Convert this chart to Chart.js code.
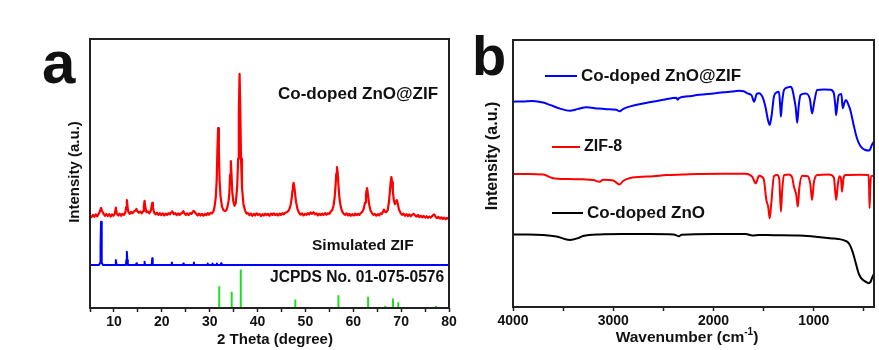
<!DOCTYPE html>
<html>
<head>
<meta charset="utf-8">
<script src="https://cdn.jsdelivr.net/npm/chart.js@4.4.1/dist/chart.umd.min.js"></script>
<style>
  html, body { margin: 0; padding: 0; background: #fff; }
  #wrap { position: relative; width: 879px; height: 350px; overflow: hidden; }
  #xrdBox { position: absolute; left: 0; top: 0; width: 460px; height: 350px; }
  #ftirBox { position: absolute; left: 460px; top: 0; width: 419px; height: 350px; }
</style>
</head>
<body>
<div id="wrap">
  <div id="xrdBox"><canvas id="xrdChart"></canvas></div>
  <div id="ftirBox"><canvas id="ftirChart"></canvas></div>
</div>
<script>
// --- panel a: XRD ---
const xrdTickLabels = [10, 20, 30, 40, 50, 60, 70, 80];

// Co-doped ZnO@ZIF pattern (2 theta, intensity a.u.)
const xrdTheta = [
  5.0,5.3,5.6,5.9,6.2,6.5,6.8,7.05,7.3,7.55,
  7.8,8.1,8.4,8.7,9.0,9.3,9.6,9.9,10.2,10.4,
  10.6,10.9,11.2,11.5,11.8,12.1,12.4,12.55,12.7,12.85,
  13.0,13.3,13.6,13.9,14.2,14.5,14.7,14.9,15.2,15.5,
  15.8,16.1,16.25,16.4,16.55,16.8,17.1,17.4,17.7,17.85,
  18.0,18.15,18.4,18.7,19.0,19.3,19.6,19.9,20.2,20.5,
  20.8,21.1,21.4,21.7,22.0,22.2,22.5,22.8,23.1,23.4,
  23.7,24.0,24.3,24.5,24.7,25.0,25.3,25.6,25.9,26.2,
  26.5,26.7,26.9,27.2,27.5,27.8,28.1,28.4,28.7,29.0,
  29.3,29.6,29.9,30.2,30.5,30.8,31.0,31.27,31.47,31.62,
  31.77,31.92,32.07,32.27,32.57,32.9,33.2,33.5,33.72,33.97,
  34.12,34.27,34.42,34.57,34.72,34.92,35.2,35.45,35.75,35.95,
  36.1,36.25,36.4,36.55,36.75,37.05,37.4,37.7,38.0,38.3,
  38.6,38.9,39.2,39.5,39.8,40.1,40.4,40.7,41.0,41.3,
  41.6,41.9,42.2,42.5,42.8,43.1,43.4,43.7,44.0,44.3,
  44.6,44.9,45.2,45.5,45.8,46.1,46.4,46.7,46.94,47.14,
  47.29,47.39,47.54,47.69,47.84,48.04,48.34,48.7,49.0,49.3,
  49.6,49.9,50.2,50.5,50.8,51.1,51.4,51.7,52.0,52.3,
  52.6,52.9,53.2,53.5,53.8,54.1,54.4,54.7,55.0,55.3,
  55.6,55.9,56.1,56.3,56.45,56.6,56.75,56.9,57.1,57.4,
  57.7,58.0,58.3,58.6,58.9,59.2,59.5,59.8,60.1,60.4,
  60.7,61.0,61.3,61.6,61.9,62.2,62.46,62.66,62.76,62.86,
  62.96,63.11,63.31,63.6,63.9,64.2,64.5,64.8,65.1,65.4,
  65.7,66.0,66.2,66.4,66.6,66.9,67.2,67.46,67.66,67.81,
  67.96,68.11,68.26,68.46,68.7,68.9,69.1,69.3,69.55,69.9,
  70.2,70.5,70.8,71.1,71.4,71.7,72.0,72.3,72.6,72.9,
  73.2,73.5,73.8,74.1,74.4,74.7,75.0,75.3,75.6,75.9,
  76.2,76.6,76.9,77.2,77.5,77.8,78.1,78.4,78.7,79.0,
  79.3,79.6,80.0
];
const xrdCounts = [
  34.2,33.8,34.6,33.9,34.8,34.1,35.0,35.8,37.2,36.0,
  35.1,34.3,35.0,34.2,34.9,34.0,34.8,34.3,35.2,37.3,
  35.0,34.4,35.1,34.3,35.0,34.6,35.6,37.5,40.1,37.6,
  35.8,35.0,35.7,35.2,35.9,36.2,36.8,36.0,35.4,35.9,
  35.2,36.0,37.8,39.8,37.6,35.6,35.9,35.2,36.1,37.6,
  39.1,37.2,35.5,34.8,35.4,34.6,35.3,34.5,35.2,34.4,
  35.1,34.6,35.3,34.8,35.6,35.9,34.9,35.3,34.5,35.2,
  34.6,35.1,35.4,36.0,35.3,34.6,35.2,34.5,35.3,35.0,
  35.8,36.1,35.6,35.0,34.4,35.1,34.4,35.0,34.3,35.0,
  34.5,35.3,34.7,35.4,35.2,36.0,37.4,41.0,47.5,58.8,
  66.9,58.8,47.5,41.5,37.8,36.3,36.0,36.4,37.6,40.0,
  43.0,49.6,54.6,49.6,43.2,39.8,38.0,39.0,45.0,55.5,
  73.9,87.0,73.9,55.5,45.0,38.7,36.2,35.1,35.3,34.5,
  35.1,34.3,35.0,34.4,35.2,34.6,35.0,34.2,34.9,34.4,
  35.1,34.5,35.0,34.3,35.1,34.6,35.2,34.5,35.0,34.4,
  35.1,34.6,35.3,34.8,35.4,35.6,36.0,37.0,38.5,40.8,
  43.6,45.5,46.5,45.0,42.5,39.5,36.8,35.3,34.7,35.2,
  34.4,35.0,34.6,35.3,34.8,35.5,35.0,35.6,34.8,35.2,
  34.4,35.0,34.5,35.1,34.6,35.3,34.7,35.2,35.0,35.8,
  36.4,38.2,40.9,45.5,50.0,52.4,50.2,45.8,41.0,37.6,
  35.8,35.0,34.6,35.2,34.4,35.0,34.3,34.9,34.4,35.1,
  34.5,35.0,34.6,35.4,35.8,37.0,39.2,42.0,43.6,44.6,
  43.8,41.5,38.6,36.3,35.3,34.6,35.0,34.3,34.9,34.4,
  35.2,35.0,35.8,36.6,35.9,35.6,36.4,39.5,43.5,46.8,
  48.7,46.9,43.6,40.2,38.6,39.5,40.1,38.8,36.6,35.3,
  34.6,35.1,34.3,34.9,34.2,34.8,34.1,34.7,35.0,34.4,
  34.0,34.6,33.8,34.3,33.7,34.2,33.6,34.1,33.5,34.0,
  33.6,34.4,34.8,33.9,33.4,33.9,33.2,33.7,33.1,33.6,
  33.0,33.5,33.0
];

// simulated ZIF pattern
const simTheta = [
  5.0, 6.9, 7.1, 7.2, 7.3, 7.4, 7.5, 7.7,
  10.25, 10.4, 10.55,
  12.5, 12.6, 12.7, 12.8, 12.9,
  14.6, 14.7, 14.8,  16.3, 16.4, 16.5,  17.9, 18.0, 18.1,
  22.0, 22.1, 22.2,  24.4, 24.5, 24.6,  26.6, 26.7, 26.8,
  29.5, 29.6, 29.7,  30.5, 30.6, 30.7,  31.4, 31.5, 31.6,
  32.3, 32.4, 32.5,
  80.0
];
const simCounts = [
  16.0, 16.0, 16.8, 23.0, 32.1, 22.5, 16.8, 16.0,
  16.0, 17.8, 16.0,
  16.0, 17.8, 20.9, 17.8, 16.0,
  16.0, 16.6, 16.0,  16.0, 17.2, 16.0,  16.0, 18.5, 16.0,
  16.0, 16.9, 16.0,  16.0, 16.5, 16.0,  16.0, 16.9, 16.0,
  16.0, 16.5, 16.0,  16.0, 16.5, 16.0,  16.0, 16.5, 16.0,
  16.0, 16.6, 16.0,
  16.0
];

// JCPDS 01-075-0576 reference lines
const stickTheta = [32.0, 34.6, 36.5, 47.9, 56.9, 63.1, 66.7, 68.3, 69.4, 72.9, 77.3];
const stickHeight = [8.1, 6.0, 14.3, 3.2, 4.7, 4.2, 0.8, 3.5, 2.1, 0.3, 0.7];

// --- panel b: FTIR ---
const ftirTickValues = [4000, 3500, 3000, 2500, 2000, 1500, 1000, 500];
const ftirTickLabels = [4000, 3000, 2000, 1000];

const compWave = [
  4000,3900,3801,3700,3632,3530,3434,3350,3268,3150,
  3069,2970,2937,2900,2805,2700,2639,2500,2408,2370,
  2358,2345,2250,2142,2000,1900,1815,1745,1700,1663,
  1620,1596,1570,1547,1510,1480,1460,1440,1420,1398,
  1370,1348,1335,1328,1318,1298,1265,1232,1215,1199,
  1180,1166,1150,1133,1083,1040,1017,995,967,900,
  834,801,785,778,765,752,725,712,695,679,
  660,636,603,570,536,487,447,421,400
];
const compAbs = [
  76.9,77.0,77.2,76.6,75.7,74.3,73.5,74.2,74.8,74.3,
  74.1,73.9,73.3,74.2,75.4,76.2,76.7,77.6,78.3,78.4,
  77.6,78.2,78.9,79.5,80.0,80.4,80.7,81.0,80.8,80.0,
  79.2,76.9,79.8,80.1,78.5,74.5,70.5,68.2,72.0,78.8,
  80.4,80.6,75.0,71.3,76.0,81.2,82.2,82.5,81.6,78.8,
  74.5,69.0,75.5,79.4,80.0,78.0,72.5,77.0,81.3,81.5,
  81.4,80.2,75.0,71.9,76.0,79.3,79.8,74.4,76.5,77.5,
  76.2,73.8,68.2,63.2,60.3,58.8,58.6,60.7,62.0
];

const zifWave = [
  4000,3850,3700,3600,3450,3300,3200,3136,3100,3000,
  2937,2900,2808,2600,2473,2300,2142,1900,1679,1613,
  1579,1547,1500,1474,1455,1440,1425,1398,1365,1345,
  1328,1315,1298,1249,1215,1199,1175,1159,1145,1116,
  1060,1035,1017,1000,967,850,800,778,760,745,
  730,719,705,686,550,454,449,444,438,427,
  400
];
const zifAbs = [
  49.8,49.8,49.6,48.2,47.9,47.8,47.6,46.9,47.7,47.4,
  45.9,47.3,48.5,49.0,49.4,49.6,49.8,49.9,49.9,48.7,
  46.3,49.2,48.0,40.1,37.5,33.2,38.5,49.0,49.4,48.0,
  35.7,44.0,49.4,49.6,48.4,45.1,42.0,37.6,44.5,49.2,
  49.0,46.0,40.1,46.5,49.4,49.6,48.5,40.1,46.0,49.0,
  48.4,43.2,48.0,49.4,49.5,49.4,45.0,37.0,44.0,49.0,
  49.2
];

const znoWave = [
  4000,3850,3699,3566,3434,3350,3302,3136,2900,2639,
  2400,2341,2320,2000,1679,1613,1547,1400,1149,983,
  818,760,685,650,619,600,586,570,553,530,
  503,470,454,435,421,400
];
const znoAbs = [
  27.2,27.2,27.0,26.4,25.1,25.8,26.6,27.2,27.3,27.3,
  27.2,26.5,27.1,27.3,27.3,26.8,27.0,26.9,26.8,26.3,
  25.7,25.5,24.8,23.8,21.3,19.0,17.0,14.8,12.6,10.9,
  9.9,9.2,8.9,9.4,10.7,12.5
];

const FONT = '"Liberation Sans", Arial, Helvetica, sans-serif';
Chart.defaults.font.family = FONT;
Chart.defaults.color = '#111';

const toPoints = (xs, ys) => xs.map((x, i) => ({ x: x, y: ys[i] }));

// one segment per reference line, broken by nulls
const stickPoints = [];
stickTheta.forEach((t, i) => {
    stickPoints.push({ x: t, y: 0 }, { x: t, y: stickHeight[i] }, { x: t, y: null });
});

// frame, panel letter, labels, keys and axis titles
const panelDecor = {
    id: 'panelDecor',
    afterDraw(chart, args, opts) {
        const { ctx, chartArea: a } = chart;
        ctx.save();
        ctx.strokeStyle = '#222';
        ctx.lineWidth = 2;
        ctx.strokeRect(a.left, a.top, a.right - a.left, a.bottom - a.top);

        ctx.fillStyle = '#111';
        ctx.textAlign = 'left';
        ctx.textBaseline = 'alphabetic';
        ctx.font = 'bold ' + opts.letterSize + 'px ' + FONT;
        ctx.fillText(opts.letter, opts.letterX, opts.letterY);

        ctx.textBaseline = 'middle';
        (opts.notes || []).forEach(n => {
            ctx.font = 'bold ' + n.size + 'px ' + FONT;
            ctx.fillText(n.text, n.x, n.y);
        });

        (opts.keys || []).forEach(k => {
            const ds = chart.data.datasets[k.dataset];
            ctx.strokeStyle = ds.borderColor;
            ctx.lineWidth = 2;
            ctx.beginPath();
            ctx.moveTo(k.x1, k.y);
            ctx.lineTo(k.x2, k.y);
            ctx.stroke();
            ctx.font = 'bold ' + k.size + 'px ' + FONT;
            ctx.fillText(ds.label, k.tx, k.y);
        });

        // x title (with optional superscript)
        const xt = opts.xTitle;
        const big = 'bold ' + xt.size + 'px ' + FONT;
        const small = 'bold 10px ' + FONT;
        ctx.font = big;
        const w1 = ctx.measureText(xt.text).width;
        let w2 = 0, w3 = 0;
        if (xt.sup) {
            ctx.font = small;
            w2 = ctx.measureText(xt.sup).width;
            ctx.font = big;
            w3 = ctx.measureText(xt.tail).width;
        }
        const x0 = xt.x - (w1 + w2 + w3) / 2;
        ctx.fillText(xt.text, x0, xt.y);
        if (xt.sup) {
            ctx.font = small;
            ctx.fillText(xt.sup, x0 + w1, xt.y - 6);
            ctx.font = big;
            ctx.fillText(xt.tail, x0 + w1 + w2, xt.y);
        }

        // y title
        const yt = opts.yTitle;
        ctx.font = 'bold ' + yt.size + 'px ' + FONT;
        ctx.translate(yt.x, yt.y);
        ctx.rotate(-Math.PI / 2);
        ctx.textAlign = 'center';
        ctx.fillText(yt.text, 0, 0);
        ctx.restore();
    }
};

const tickFont = { family: FONT, size: 14, weight: 'bold' };
const lineBase = { pointRadius: 0, borderJoinStyle: 'round', borderCapStyle: 'round' };

// --- panel a chart ---
new Chart(document.getElementById('xrdChart').getContext('2d'), {
    type: 'line',
    data: {
        datasets: [
            { ...lineBase, label: 'Co-doped ZnO@ZIF', data: toPoints(xrdTheta, xrdCounts), borderColor: '#ff0000', borderWidth: 2.2, tension: 0 },
            { ...lineBase, label: 'Simulated ZIF', data: toPoints(simTheta, simCounts), borderColor: '#0000ff', borderWidth: 2, tension: 0 },
            { ...lineBase, label: 'JCPDS No. 01-075-0576', data: stickPoints, borderColor: '#22dd22', borderWidth: 2, borderCapStyle: 'butt', spanGaps: false }
        ]
    },
    options: {
        responsive: true, maintainAspectRatio: false, animation: false,
        layout: { padding: { left: 90, top: 39, right: 11, bottom: 0 } },
        scales: {
            x: {
                type: 'linear', min: 5, max: 80,
                border: { display: false },
                grid: { drawOnChartArea: false, drawTicks: true, tickLength: 4, tickColor: '#222', tickWidth: 1.5 },
                ticks: { stepSize: 5, autoSkip: false, maxRotation: 0, padding: 2, color: '#111', font: tickFont,
                         callback: v => xrdTickLabels.includes(v) ? String(v) : '' },
                afterFit: s => { s.height = 42; }
            },
            y: { display: false, min: 0, max: 100 }
        },
        plugins: {
            legend: { display: false },
            tooltip: { enabled: false },
            panelDecor: {
                letter: 'a', letterSize: 60, letterX: 42, letterY: 83,
                notes: [
                    { text: 'Co-doped ZnO@ZIF', x: 278, y: 94, size: 17 },
                    { text: 'Simulated ZIF', x: 312, y: 246, size: 15.5 },
                    { text: 'JCPDS No. 01-075-0576', x: 270, y: 278, size: 15.6 }
                ],
                xTitle: { text: '2 Theta (degree)', x: 275, y: 340, size: 15 },
                yTitle: { text: 'Intensity (a.u.)', x: 75, y: 172, size: 15 }
            }
        }
    },
    plugins: [panelDecor]
});

// --- panel b chart ---
new Chart(document.getElementById('ftirChart').getContext('2d'), {
    type: 'line',
    data: {
        datasets: [
            { ...lineBase, label: 'Co-doped ZnO@ZIF', data: toPoints(compWave, compAbs), borderColor: '#0000ff', borderWidth: 2, cubicInterpolationMode: 'monotone' },
            { ...lineBase, label: 'ZIF-8', data: toPoints(zifWave, zifAbs), borderColor: '#ff0000', borderWidth: 2, cubicInterpolationMode: 'monotone' },
            { ...lineBase, label: 'Co-doped ZnO', data: toPoints(znoWave, znoAbs), borderColor: '#000000', borderWidth: 2, cubicInterpolationMode: 'monotone' }
        ]
    },
    options: {
        responsive: true, maintainAspectRatio: false, animation: false,
        layout: { padding: { left: 53, top: 40, right: 5, bottom: 0 } },
        scales: {
            x: {
                type: 'linear', min: 400, max: 4000, reverse: true,
                border: { display: false },
                grid: { drawOnChartArea: false, drawTicks: true, tickLength: 4, tickColor: '#222', tickWidth: 1.5 },
                ticks: { autoSkip: false, maxRotation: 0, padding: 2, color: '#111', font: tickFont,
                         callback: v => ftirTickLabels.includes(v) ? String(v) : '' },
                afterBuildTicks: s => { s.ticks = ftirTickValues.map(v => ({ value: v })); },
                afterFit: s => { s.height = 43; }
            },
            y: { display: false, min: 0, max: 100 }
        },
        plugins: {
            legend: { display: false },
            tooltip: { enabled: false },
            panelDecor: {
                letter: 'b', letterSize: 56, letterX: 12, letterY: 75,
                keys: [
                    { dataset: 0, x1: 85, x2: 117, y: 76, tx: 121, size: 17 },
                    { dataset: 1, x1: 92, x2: 120, y: 147, tx: 124, size: 16 },
                    { dataset: 2, x1: 92, x2: 123, y: 213, tx: 127, size: 17 }
                ],
                xTitle: { text: 'Wavenumber (cm', sup: '-1', tail: ')', x: 227, y: 338, size: 15.5 },
                yTitle: { text: 'Intensity (a.u.)', x: 33, y: 156, size: 16 }
            }
        }
    },
    plugins: [panelDecor]
});
</script>
</body>
</html>
